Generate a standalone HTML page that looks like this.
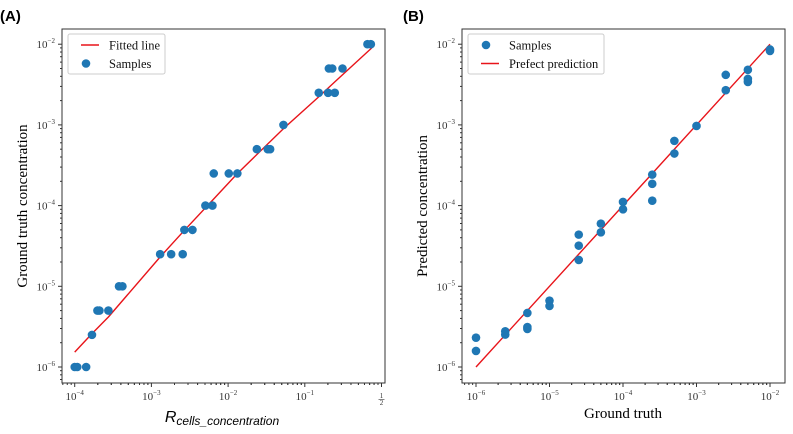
<!DOCTYPE html>
<html><head><meta charset="utf-8"><style>
body{margin:0;background:#fff;}
svg{display:block;font-family:"Liberation Serif",serif;}
</style></head><body>
<svg id="fig" width="793" height="434"></svg>
<script>
// Panel A data
const aSampleX=[1.0e-4,1.08e-4,1.41e-4,1.68e-4,1.98e-4,2.1e-4,2.75e-4,3.78e-4,4.19e-4,1.3e-3,1.81e-3,2.56e-3,2.69e-3,3.43e-3,5.06e-3,6.25e-3,6.5e-3,0.0102,0.0132,0.0237,0.0329,0.0353,0.0527,0.152,0.201,0.246,0.206,0.228,0.31,0.656,0.726];
const aSampleY=[1e-6,1e-6,1e-6,2.5e-6,5e-6,5e-6,5e-6,1e-5,1e-5,2.5e-5,2.5e-5,2.5e-5,5e-5,5e-5,1e-4,1e-4,2.5e-4,2.5e-4,2.5e-4,5e-4,5e-4,5e-4,1e-3,2.5e-3,2.5e-3,2.5e-3,5e-3,5e-3,5e-3,1e-2,1e-2];
const aFitX=[1e-4,1.68e-4,2.75e-4,1.3e-3,2.69e-3,6.25e-3,0.0132,0.0527,0.152,0.246,0.748];
const aFitY=[1.53e-6,2.59e-6,4.17e-6,2.31e-5,4.94e-5,1.16e-4,2.49e-4,9.0e-4,2.22e-3,3.41e-3,9.0e-3];
const aXTicks=[-4,-3,-2,-1,0];
// Panel B data
const bTruth=[1e-6,1e-6,2.5e-6,2.5e-6,5e-6,5e-6,5e-6,1e-5,1e-5,2.5e-5,2.5e-5,2.5e-5,5e-5,5e-5,1e-4,1e-4,2.5e-4,2.5e-4,2.5e-4,5e-4,5e-4,1e-3,2.5e-3,2.5e-3,5e-3,5e-3,5e-3,1e-2,1e-2];
const bPred=[2.31e-6,1.58e-6,2.77e-6,2.52e-6,4.67e-6,3.13e-6,2.96e-6,6.64e-6,5.7e-6,4.37e-5,3.19e-5,2.12e-5,5.98e-5,4.67e-5,1.11e-4,9.0e-5,2.42e-4,1.86e-4,1.15e-4,6.34e-4,4.42e-4,9.7e-4,4.17e-3,2.69e-3,4.81e-3,3.72e-3,3.41e-3,8.6e-3,8.26e-3];
const bLineX=[1e-6,1e-2];
const bXTicks=[-6,-5,-4,-3,-2];
const yTicks=[-6,-5,-4,-3,-2];

const NS="http://www.w3.org/2000/svg";
const svg=document.getElementById('fig');
function mk(tag,attrs,parent){const e=document.createElementNS(NS,tag);for(const k in attrs)e.setAttribute(k,attrs[k]);(parent||svg).appendChild(e);return e;}
function supLabel(g,x,y,exp,anchor){
  const t=mk('text',{x:x,y:y,'font-size':'11','text-anchor':anchor,fill:'#333'},g);
  
  
  const s1=mk('tspan',{},t);s1.textContent='10';
  const s2=mk('tspan',{dy:'-5','font-size':'7'},t);s2.textContent=(exp<0?'\u2212':'')+Math.abs(exp);
  return t;
}
function panel(o){
  const g=mk('g',{});
  
  
  const L=o.left,R=o.right,T=29,B=383;
  const xs=v=>o.x0+(Math.log10(v)-o.xmin)*o.xdec;
  const ys=v=>367-(Math.log10(v)+6)*80.7;
  const fr=mk('rect',{x:L,y:T,width:R-L,height:B-T,fill:'none',stroke:'#333','stroke-width':1},g);
  
  
  yTicks.forEach(e=>{
    const y=367-(e+6)*80.7;
    mk('line',{x1:L,x2:L-4,y1:y,y2:y,stroke:'#333'},g);
    supLabel(g,L-7,y+4,e,'end');
    if(e<-2)for(let m=2;m<10;m++){const yy=y-Math.log10(m)*80.7;mk('line',{x1:L,x2:L-2,y1:yy,y2:yy,stroke:'#333'},g);}
  });
  for(let m=2;m<10;m++){const yy=367+80.7-Math.log10(m)*80.7;if(yy<B)mk('line',{x1:L,x2:L-2,y1:yy,y2:yy,stroke:'#333'},g);}
  for(let m=2;m<10;m++){const yy=44-Math.log10(m)*80.7;if(yy>T)mk('line',{x1:L,x2:L-2,y1:yy,y2:yy,stroke:'#333'},g);}
  o.xticks.forEach((e,i)=>{
    const x=o.x0+(e-o.xmin)*o.xdec;
    mk('line',{x1:x,x2:x,y1:B,y2:B+4,stroke:'#333'},g);
    if(o.fracLast&&i===o.xticks.length-1){
      const t1=mk('text',{x:x,y:B+15,'font-size':'7','text-anchor':'middle',fill:'#333'},g);t1.textContent='1';
      const t2=mk('text',{x:x,y:B+22,'font-size':'7','text-anchor':'middle',fill:'#333'},g);t2.textContent='2';
      mk('line',{x1:x-3,x2:x+3,y1:B+16.5,y2:B+16.5,stroke:'#333','stroke-width':0.6},g);
    } else supLabel(g,x,B+17,e,'middle');
    for(let d=-1;d<1;d++)for(let m=2;m<10;m++){const xx=x+(d+Math.log10(m))*o.xdec;if(xx>L&&xx<R)mk('line',{x1:xx,x2:xx,y1:B,y2:B+2,stroke:'#333'},g);}
  });
  return {g,xs,ys};
}
function pts(p,X,Y){
  X.forEach((v,i)=>{const c=mk('circle',{cx:p.xs(v),cy:p.ys(Y[i]),r:4.3,fill:'#1f77b4'},p.g);
    
    });
}
function line(p,X,Y,name){
  const d=X.map((v,i)=>(i?'L':'M')+p.xs(v).toFixed(1)+','+p.ys(Y[i]).toFixed(1)).join(' ');
  const l=mk('path',{d:d,fill:'none',stroke:'#e8141a','stroke-width':1.4,'stroke-linejoin':'round'},p.g);
  
  
}
function legend(g,x,w,items){
  const lg=mk('g',{},g);
  
  
  mk('rect',{x:x,y:34,width:w,height:40,rx:2,fill:'#fff',stroke:'#ccc'},lg);
  items.forEach((it,i)=>{
    const y=45+i*18.5;
    if(it.type==='line')mk('line',{x1:x+13,x2:x+31,y1:y,y2:y,stroke:'#e8141a','stroke-width':1.4},lg);
    else mk('circle',{cx:x+18,cy:y,r:4.3,fill:'#1f77b4'},lg);
    const t=mk('text',{x:x+41,y:y+4.5,'font-size':'12.5',fill:'#111'},lg);t.textContent=it.label;
    
    
  });
}
const A=panel({name:'panel-a',left:62,right:385,x0:74.7,xmin:-4,xdec:76.7,xticks:aXTicks,fracLast:true});
line(A,aFitX,aFitY,'fitted-line');
pts(A,aSampleX,aSampleY);
legend(A.g,68,97,[{type:'line',label:'Fitted line'},{type:'dot',label:'Samples'}]);
const Bp=panel({name:'panel-b',left:462,right:785,x0:476,xmin:-6,xdec:73.5,xticks:bXTicks});
line(Bp,bLineX,bLineX,'perfect-prediction-line');
pts(Bp,bTruth,bPred);
legend(Bp.g,468,136,[{type:'dot',label:'Samples'},{type:'line',label:'Prefect prediction'}]);
</script>
<svg style="position:absolute;left:0;top:0" width="793" height="434">
<text x="0" y="21" font-family="Liberation Sans,sans-serif" font-weight="bold" font-size="15">(A)</text>
<text x="403" y="21" font-family="Liberation Sans,sans-serif" font-weight="bold" font-size="15">(B)</text>
<text transform="translate(27,206) rotate(-90)" text-anchor="middle" font-family="Liberation Serif,serif" font-size="15">Ground truth concentration</text>
<text x="222" y="422" text-anchor="middle" font-family="Liberation Sans,sans-serif" font-style="italic" font-size="16">R<tspan font-size="12" dy="3">cells_concentration</tspan></text>
<text transform="translate(427,206) rotate(-90)" text-anchor="middle" font-family="Liberation Serif,serif" font-size="15">Predicted concentration</text>
<text x="623" y="418" text-anchor="middle" font-family="Liberation Serif,serif" font-size="15">Ground truth</text>
</svg>
</body></html>
